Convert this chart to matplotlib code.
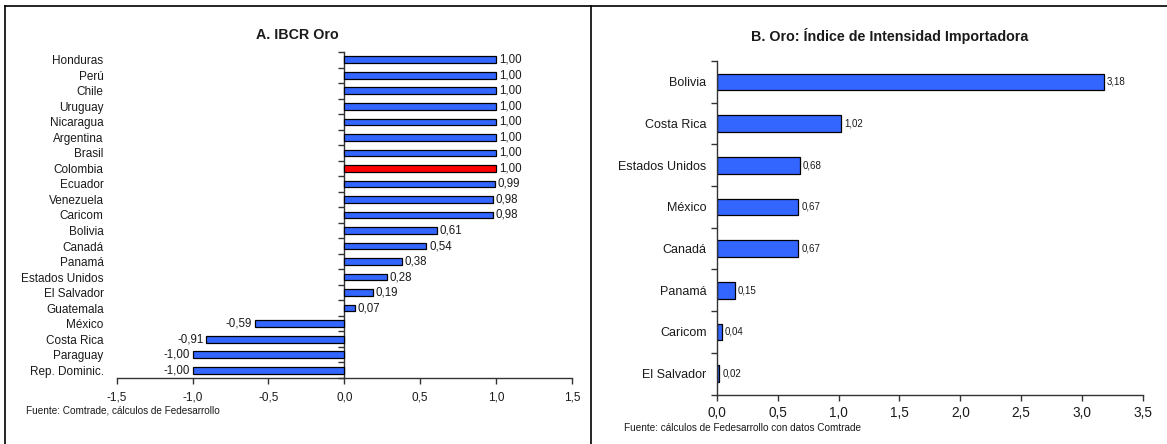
import matplotlib
matplotlib.use("Agg")
import matplotlib.pyplot as plt
from matplotlib.lines import Line2D
from matplotlib.ticker import FuncFormatter

plt.rcParams["font.family"] = ["Liberation Sans", "DejaVu Sans"]

# Panel A: IBCR for gold by partner
ibcr_countries = ["Honduras", "Perú", "Chile", "Uruguay", "Nicaragua", "Argentina",
                  "Brasil", "Colombia", "Ecuador", "Venezuela", "Caricom", "Bolivia",
                  "Canadá", "Panamá", "Estados Unidos", "El Salvador", "Guatemala",
                  "México", "Costa Rica", "Paraguay", "Rep. Dominic."]
ibcr_values = [1.00, 1.00, 1.00, 1.00, 1.00, 1.00, 1.00, 1.00, 0.99, 0.98, 0.98,
               0.61, 0.54, 0.38, 0.28, 0.19, 0.07, -0.59, -0.91, -1.00, -1.00]
highlight = "Colombia"

# Panel B: import intensity index for gold
iii_countries = ["Bolivia", "Costa Rica", "Estados Unidos", "México", "Canadá",
                 "Panamá", "Caricom", "El Salvador"]
iii_values = [3.18, 1.02, 0.68, 0.67, 0.67, 0.15, 0.04, 0.02]

xticks_a = [-1.5, -1.0, -0.5, 0.0, 0.5, 1.0, 1.5]
xticks_b = [0.0, 0.5, 1.0, 1.5, 2.0, 2.5, 3.0, 3.5]

BLUE = "#3366ff"
RED = "#ff0000"
TXT = "#1a1a1a"
AXC = "#333333"

W, H = 1167, 444
fig = plt.figure(figsize=(W / 100, H / 100), dpi=100)


def px_box(x0, y0, x1, y1):
    return [x0 / W, 1 - y1 / H, (x1 - x0) / W, (y1 - y0) / H]


def comma(v, pos=None):
    return f"{v:.1f}".replace(".", ",")


def style_common(ax, xticks, xfs, pad):
    for s in ["top", "right", "left"]:
        ax.spines[s].set_visible(False)
    ax.spines["bottom"].set_color(AXC)
    ax.spines["bottom"].set_linewidth(1.0)
    ax.set_xticks(xticks)
    ax.xaxis.set_major_formatter(FuncFormatter(comma))
    ax.tick_params(axis="x", direction="out", length=4, width=1.0, color=AXC,
                   labelsize=xfs, labelcolor=TXT, pad=pad)


# ---- Panel A ----
axa = fig.add_axes(px_box(116.7, 52, 572, 378))
n_a = len(ibcr_countries)
ya = list(range(n_a))
colors_a = [RED if c == highlight else BLUE for c in ibcr_countries]
bars_a = axa.barh(ya, ibcr_values, height=0.43, color=colors_a,
                  edgecolor="black", linewidth=0.9)
axa.set_xlim(xticks_a[0], xticks_a[-1])
axa.set_ylim(n_a - 0.5, -0.5)
style_common(axa, xticks_a, 8.5, 5.5)
axa.set_yticks(ya)
axa.set_yticklabels(ibcr_countries)
axa.tick_params(axis="y", length=0, labelsize=8.5, labelcolor=TXT, pad=9.5)
axa.bar_label(bars_a, labels=[f"{v:.2f}".replace(".", ",") for v in ibcr_values],
              padding=2, fontsize=8.3, color=TXT)

# vertical axis through zero, with ticks between categories
zero_frac = (0 - xticks_a[0]) / (xticks_a[-1] - xticks_a[0]) - 1e-6
sec = axa.secondary_yaxis(zero_frac)
sec.set_yticks([i - 0.5 for i in range(n_a + 1)])
sec.set_yticklabels([])
for s in ["left", "right"]:
    sec.spines[s].set_color(AXC)
    sec.spines[s].set_linewidth(1.0)
sec.tick_params(axis="y", direction="out", length=4, width=1.0, color=AXC)

fig.text(297 / W, 1 - 35 / H, "A. IBCR Oro", ha="center", va="center",
         fontsize=10.3, fontweight="bold", color=TXT)
fig.text(26 / W, 1 - 410 / H, "Fuente: Comtrade, cálculos de Fedesarrollo",
         ha="left", va="center", fontsize=7.2, color=TXT)

# ---- Panel B ----
axb = fig.add_axes(px_box(717, 61, 1142.7, 394.5))
n_b = len(iii_countries)
yb = list(range(n_b))
bars_b = axb.barh(yb, iii_values, height=0.4, color=BLUE,
                  edgecolor="black", linewidth=0.9)
axb.set_xlim(xticks_b[0], xticks_b[-1])
axb.set_ylim(n_b - 0.5, -0.5)
style_common(axb, xticks_b, 9.8, 4)
axb.spines["left"].set_visible(True)
axb.spines["left"].set_color(AXC)
axb.spines["left"].set_linewidth(1.0)
axb.set_yticks(yb)
axb.set_yticklabels(iii_countries)
axb.set_yticks([i - 0.5 for i in range(n_b + 1)], minor=True)
axb.tick_params(axis="y", which="major", length=0, labelsize=9, labelcolor=TXT, pad=7.5)
axb.tick_params(axis="y", which="minor", direction="out", length=4, width=1.0, color=AXC)
axb.bar_label(bars_b, labels=[f"{v:.2f}".replace(".", ",") for v in iii_values],
              padding=2, fontsize=7, color=TXT)

fig.text(890 / W, 1 - 36 / H, "B. Oro: Índice de Intensidad Importadora",
         ha="center", va="center", fontsize=10.3, fontweight="bold", color=TXT)
fig.text(624 / W, 1 - 428 / H, "Fuente: cálculos de Fedesarrollo con datos Comtrade",
         ha="left", va="center", fontsize=7.2, color=TXT)

# panel frames
frame_kw = dict(transform=fig.transFigure, color="black", linewidth=1.2)
fig.add_artist(Line2D([4.5 / W, 1], [1 - 6.5 / H, 1 - 6.5 / H], **frame_kw))
fig.add_artist(Line2D([4.5 / W, 4.5 / W], [0, 1 - 6.5 / H], **frame_kw))
fig.add_artist(Line2D([591 / W, 591 / W], [0, 1 - 6.5 / H], **frame_kw))

fig.savefig("out.png", dpi=100)
